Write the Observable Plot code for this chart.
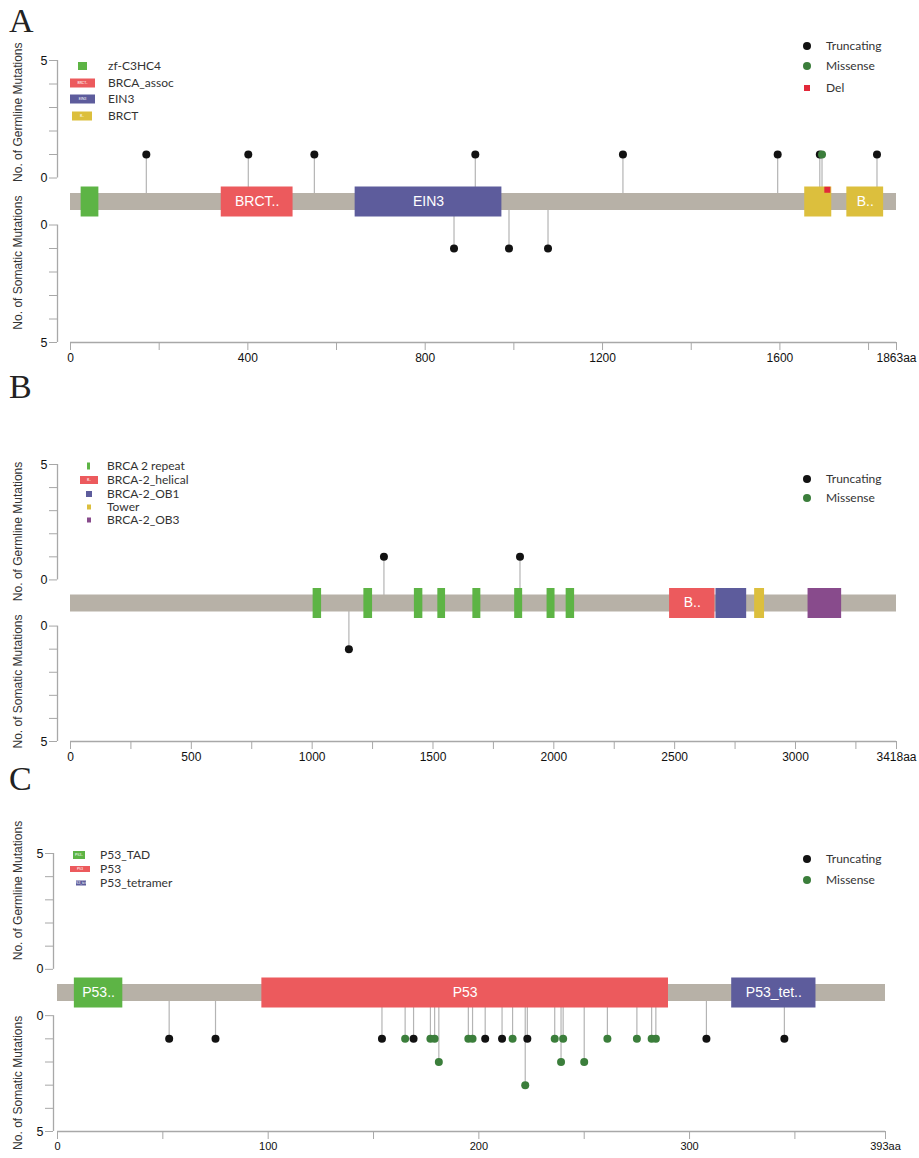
<!DOCTYPE html>
<html><head><meta charset="utf-8">
<script src="https://cdn.jsdelivr.net/npm/d3@7"></script>
<script src="https://cdn.jsdelivr.net/npm/@observablehq/plot@0.6"></script>
<style>
html,body{margin:0;padding:0;background:#fff;}
#chart{width:919px;}
#chart svg{display:block;overflow:visible;}
</style></head><body><div id="chart"></div>
<script>
// ================= DATA =================
// ---- Panel A (1863 aa) ----
const aLength = 1863;
const aTickValues = [0,200,400,600,800,1000,1200,1400,1600,1800,1863];
const aTickLabels = ["0","","400","","800","","1200","","1600","","1863aa"];
const aDomainNames  = ["zf-C3HC4","BRCA_assoc","EIN3","BRCT","BRCT"];
const aDomainStarts = [24,340,642,1656,1751];
const aDomainEnds   = [64,502,973,1717,1834];
const aDomainLabels = ["","BRCT..","EIN3","","B.."];
const aLegendDomains = ["zf-C3HC4","BRCA_assoc","EIN3","BRCT"];
const aLegendMini    = ["","BRCT..","EIN3","B.."];
const aGermlinePos   = [171,401,550,913,1246,1595,1690,1695,1819];
const aGermlineCount = [1,1,1,1,1,1,1,1,1];
const aGermlineType  = ["Truncating","Truncating","Truncating","Truncating","Truncating","Truncating","Truncating","Missense","Truncating"];
const aSomaticPos    = [865,989,1077];
const aSomaticCount  = [1,1,1];
const aSomaticType   = ["Truncating","Truncating","Truncating"];
const aDeletionPos   = [1707];
const aMutationLegend = ["Truncating","Missense","Del"];

// ---- Panel B (3418 aa) ----
const bLength = 3418;
const bTickValues = [0,250,500,750,1000,1250,1500,1750,2000,2250,2500,2750,3000,3250,3418];
const bTickLabels = ["0","","500","","1000","","1500","","2000","","2500","","3000","","3418aa"];
const bDomainNames  = ["BRCA 2 repeat","BRCA 2 repeat","BRCA 2 repeat","BRCA 2 repeat","BRCA 2 repeat","BRCA 2 repeat","BRCA 2 repeat","BRCA 2 repeat","BRCA-2_helical","BRCA-2_OB1","Tower","BRCA-2_OB3"];
const bDomainStarts = [1004,1214,1423,1520,1665,1838,1972,2051,2479,2671,2831,3052];
const bDomainEnds   = [1039,1250,1458,1552,1698,1871,2005,2086,2667,2798,2872,3191];
const bDomainLabels = ["","","","","","","","","B..","","",""];
const bLegendDomains = ["BRCA 2 repeat","BRCA-2_helical","BRCA-2_OB1","Tower","BRCA-2_OB3"];
const bLegendMini    = ["","B..","","",""];
const bGermlinePos   = [1297,1860];
const bGermlineCount = [1,1];
const bGermlineType  = ["Truncating","Truncating"];
const bSomaticPos    = [1152];
const bSomaticCount  = [1];
const bSomaticType   = ["Truncating"];
const bDeletionPos   = [];
const bMutationLegend = ["Truncating","Missense"];

// ---- Panel C (393 aa) ----
const cLength = 393;
const cTickValues = [0,50,100,150,200,250,300,350,393];
const cTickLabels = ["0","","100","","200","","300","","393aa"];
const cDomainNames  = ["P53_TAD","P53","P53_tetramer"];
const cDomainStarts = [8,97,320];
const cDomainEnds   = [31,290,360];
const cDomainLabels = ["P53..","P53","P53_tet.."];
const cLegendDomains = ["P53_TAD","P53","P53_tetramer"];
const cLegendMini    = ["P53..","P53","P53_tet.."];
const cGermlinePos   = [];
const cGermlineCount = [];
const cGermlineType  = [];
const cSomaticPos    = [53,75,154,165,169,177,179,181,195,197,203,211,216,222,223,236,239,240,250,261,275,282,284,308,345];
const cSomaticCount  = [1,1,1,1,1,1,1,2,1,1,1,1,1,3,1,1,2,1,2,1,1,1,1,1,1];
const cSomaticType   = ["Truncating","Truncating","Truncating","Missense","Truncating","Missense","Missense","Missense","Missense","Missense","Truncating","Truncating","Missense","Missense","Truncating","Missense","Missense","Missense","Missense","Missense","Missense","Missense","Missense","Truncating","Truncating"];
const cDeletionPos   = [];
const cMutationLegend = ["Truncating","Missense"];

// ================= STYLES =================
const domainColors = {
  "zf-C3HC4":"#5db445","BRCA_assoc":"#ec5a5d","EIN3":"#5d5c9c","BRCT":"#dcbf3d",
  "BRCA 2 repeat":"#5db445","BRCA-2_helical":"#ec5a5d","BRCA-2_OB1":"#5d5c9c","Tower":"#dcbf3d","BRCA-2_OB3":"#884b8c",
  "P53_TAD":"#5db445","P53":"#ec5a5d","P53_tetramer":"#5d5c9c"
};
const typeColors = {Truncating:"#121212", Missense:"#3b7e3b", Del:"#e2293a"};
const axisGrey = "#a8a8a8", stemGrey = "#b4b4b4", backboneGrey = "#b7b1a7";

function drawPanel(p) {
  const muts = [
    ...p.germPos.map((pos,i)=>({pos, count:p.germCount[i], type:p.germType[i], side:1})),
    ...p.somPos.map((pos,i)=>({pos, count:p.somCount[i], type:p.somType[i], side:-1}))
  ];
  const domains = p.domNames.map((name,i)=>({name, start:p.domStarts[i], end:p.domEnds[i], label:p.domLabels[i]}));
  const dels = p.delPos.map(pos=>({pos}));
  const level = d => d.side*(1+d.count);
  const yTicks = [1,2,3,4,5,6,-1,-2,-3,-4,-5,-6];
  const yTickLabel = v => Math.abs(v)===6 ? "5" : (Math.abs(v)===1 ? "0" : "");
  const svg = Plot.plot({
    width: 919, height: p.height,
    marginTop: p.mt, marginBottom: p.mb, marginLeft: p.ml, marginRight: p.mr, insetLeft: p.il,
    x: {domain:[0,p.len]},
    y: {domain:[-6,6]},
    style: {fontFamily:"'Liberation Sans', Arial, sans-serif", fontSize:"11px", color:"#222", background:"transparent", overflow:"visible"},
    marks: [
      Plot.ruleY([-6], {x1:0, x2:p.len, stroke:axisGrey, strokeWidth:1.3}),
      Plot.axisX({ticks:p.ticks, tickFormat: v => p.tickLabels[p.ticks.indexOf(v)], tickSize:8, tickPadding:3, stroke:axisGrey, fill:"#111", label:null, fontSize:p.tickFont}),
      Plot.ruleX([[1,6],[-1,-6]], {x: () => 0, y1: d=>d[0], y2: d=>d[1], dx: -p.il, stroke:axisGrey, strokeWidth:1.3}),
      Plot.axisY({ticks:yTicks, tickFormat:yTickLabel, tickSize:8, tickPadding:2, stroke:axisGrey, fill:"#111", label:null, fontSize:12.5}),
      Plot.text(["No. of Germline Mutations"], {y: () => p.gTitleY, frameAnchor:"left", textAnchor:"middle", dx:p.titleDx, rotate:-90, fontSize:12, fill:"#333"}),
      Plot.text(["No. of Somatic Mutations"], {y: () => p.sTitleY, frameAnchor:"left", textAnchor:"middle", dx:p.titleDx, rotate:-90, fontSize:12, fill:"#333"}),
      Plot.ruleX(muts, {x:"pos", y1:0, y2:level, stroke:stemGrey, strokeWidth:1.2}),
      Plot.ruleY([0], {x1:0, x2:p.len, stroke:backboneGrey, strokeWidth:17}),
      Plot.ruleY(domains, {x1:"start", x2:"end", y: () => 0, stroke: d=>domainColors[d.name], strokeWidth:30}),
      Plot.text(domains.filter(d=>d.label), {x: d=>(d.start+d.end)/2, y: () => 0, text:"label", fill:"#fff", fontSize:14}),
      Plot.dot(muts, {x:"pos", y:level, r:4, fill: d=>typeColors[d.type]}),
      Plot.dot(dels, {x:"pos", y: () => 0.5, symbol:"square", r:3.4, fill:typeColors.Del})
    ]
  });
  const s = d3.select(svg);
  // panel letter
  s.append("text").attr("x",9).attr("y",p.letterY).attr("text-anchor","start")
    .attr("font-family","'Liberation Serif', 'DejaVu Serif', serif")
    .attr("font-size",34).attr("fill","#222").text(p.letter);
  // domain legend
  const g = s.append("g").attr("font-family","Lato, 'Open Sans', sans-serif").attr("font-size",12)
    .attr("fill","#333").attr("text-anchor","start");
  p.legendDomains.forEach((name,i)=>{
    const sw = p.swatches[i], cy = p.legendY[i];
    g.append("rect").attr("x",sw[0]).attr("y",cy - sw[2]/2).attr("width",sw[1]).attr("height",sw[2]).attr("fill",domainColors[name]);
    if (p.legendMini[i]) g.append("text").attr("x",sw[0]+sw[1]/2).attr("y",cy).attr("dy","0.35em").attr("text-anchor","middle")
      .attr("font-size",3.5).attr("fill","#fff").text(p.legendMini[i]);
    g.append("text").attr("x",p.legendTextX).attr("y",cy).attr("dy","0.35em").text(name);
  });
  // mutation type legend
  p.mutLegend.forEach((t,i)=>{
    const cy = p.mutLegendY[i];
    if (t === "Del") g.append("rect").attr("x",804).attr("y",cy-3).attr("width",6).attr("height",6).attr("fill",typeColors[t]);
    else g.append("circle").attr("cx",807).attr("cy",cy).attr("r",4).attr("fill",typeColors[t]);
    g.append("text").attr("x",826).attr("y",cy).attr("dy","0.35em").text(t);
  });
  document.getElementById("chart").appendChild(svg);
}

drawPanel({letter:"A", letterY:32, len:aLength, ticks:aTickValues, tickLabels:aTickLabels,
  domNames:aDomainNames, domStarts:aDomainStarts, domEnds:aDomainEnds, domLabels:aDomainLabels,
  germPos:aGermlinePos, germCount:aGermlineCount, germType:aGermlineType,
  somPos:aSomaticPos, somCount:aSomaticCount, somType:aSomaticType, delPos:aDeletionPos,
  legendDomains:aLegendDomains, legendMini:aLegendMini, mutLegend:aMutationLegend,
  height:368, mt:60, mb:26, ml:57, mr:23, il:13, titleDx:-39, gTitleY:3.8, sTitleY:-2.6, tickFont:12,
  legendY:[66,83,99,116], legendTextX:108, swatches:[[78,9,8],[70,25,9],[70,25,9],[72,20,9]],
  mutLegendY:[46,66,88]});

drawPanel({letter:"B", letterY:30, len:bLength, ticks:bTickValues, tickLabels:bTickLabels,
  domNames:bDomainNames, domStarts:bDomainStarts, domEnds:bDomainEnds, domLabels:bDomainLabels,
  germPos:bGermlinePos, germCount:bGermlineCount, germType:bGermlineType,
  somPos:bSomaticPos, somCount:bSomaticCount, somType:bSomaticType, delPos:bDeletionPos,
  legendDomains:bLegendDomains, legendMini:bLegendMini, mutLegend:bMutationLegend,
  height:394, mt:96, mb:21, ml:57, mr:23, il:13, titleDx:-39, gTitleY:3.1, sTitleY:-3.4, tickFont:12,
  legendY:[98,112,126,139,152], legendTextX:107, swatches:[[87,3,7],[80,18,8],[86,6,6],[87,4,5],[87,4,5]],
  mutLegendY:[111,130]});

drawPanel({letter:"C", letterY:28, len:cLength, ticks:cTickValues, tickLabels:cTickLabels,
  domNames:cDomainNames, domStarts:cDomainStarts, domEnds:cDomainEnds, domLabels:cDomainLabels,
  germPos:cGermlinePos, germCount:cGermlineCount, germType:cGermlineType,
  somPos:cSomaticPos, somCount:cSomaticCount, somType:cSomaticType, delPos:cDeletionPos,
  legendDomains:cLegendDomains, legendMini:cLegendMini, mutLegend:cMutationLegend,
  height:396, mt:91, mb:27, ml:53, mr:34, il:4, titleDx:-35, gTitleY:4.4, sTitleY:-3.9, tickFont:11,
  legendY:[93,107,121], legendTextX:100, swatches:[[73,12,8],[70,20,6],[76,10,5]],
  mutLegendY:[97,118]});
</script>
</body></html>
